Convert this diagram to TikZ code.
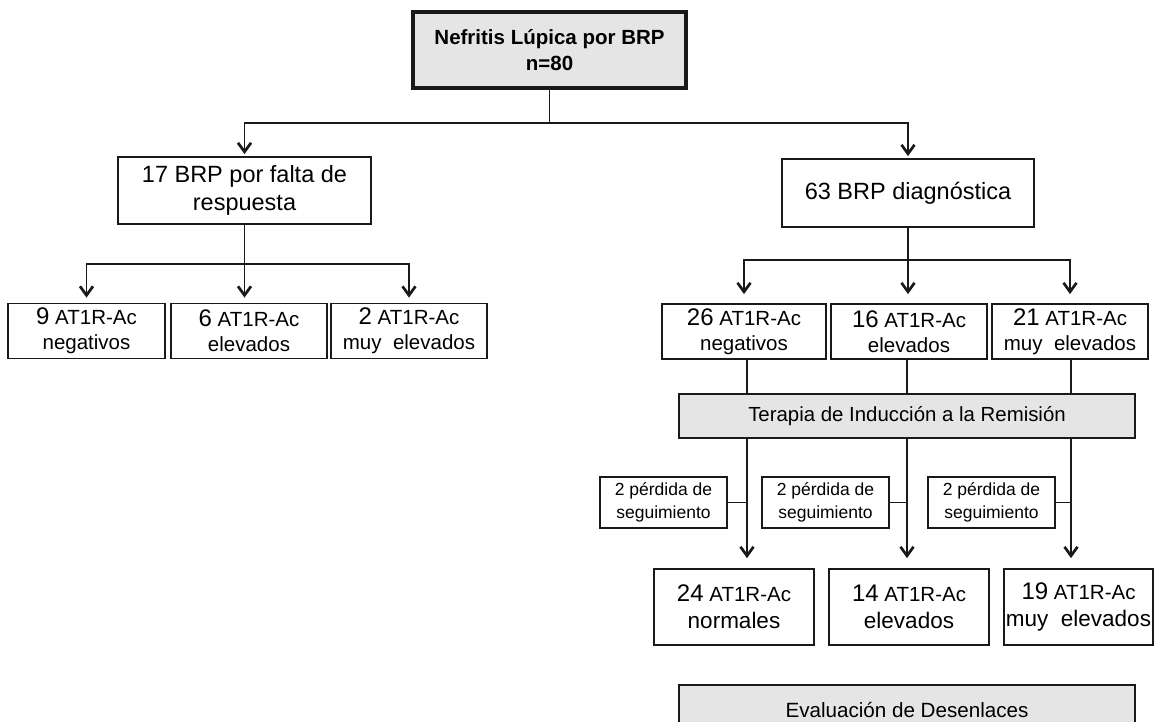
\documentclass[tikz,border=0pt]{standalone}
\usepackage{fontspec}
\setmainfont{Liberation Sans}
\usetikzlibrary{arrows.meta,calc}
\definecolor{linec}{RGB}{25,25,25}
\definecolor{boxfill}{RGB}{229,229,229}
\newcommand\bignum{\fontsize{24}{25}\selectfont}
\begin{document}
\begin{tikzpicture}[x=1pt,y=-1pt,
  box/.style={draw=linec,line width=1.8pt,inner sep=0pt,align=center,text=black},
  graybox/.style={box,fill=boxfill},
  conn/.style={draw=linec,line width=1.3pt},
  arr/.style={conn,-{Straight Barb[length=9pt,width=13pt,line width=2.7pt]}},
  midbox/.style={box,minimum height=55,font=\fontsize{20.5}{25}\selectfont},
  lossbox/.style={box,minimum width=127,minimum height=51,font=\fontsize{17.5}{23}\selectfont},
  botbox/.style={box,minimum height=76,font=\fontsize{20.5}{27}\selectfont},
  big/.style={box,font=\fontsize{23.5}{28}\selectfont}
]
\useasboundingbox (0,0) rectangle (1154,721);
\clip (0,0) rectangle (1154,721);
\fill[white] (0,0) rectangle (1154,721);

% nodes
\node[graybox,line width=3.5pt,minimum width=273,minimum height=76,
      font=\bfseries\fontsize{20.5}{26}\selectfont] (top) at (549.5,50) {Nefritis Lúpica por BRP\\n=80};
\node[big,minimum width=253,minimum height=67] (l1) at (244.5,190.5) {17 BRP por falta de\\respuesta};
\node[big,minimum width=252,minimum height=68] (r1) at (908,193) {63 BRP diagnóstica};

\node[midbox,minimum width=157] (la) at (86.5,331) {{\bignum 9} AT1R-Ac\\negativos};
\node[midbox,minimum width=156] (lb) at (249,331) {{\bignum 6} AT1R-Ac\\elevados};
\node[midbox,minimum width=156] (lc) at (409,331) {{\bignum 2} AT1R-Ac\\muy~ elevados};

\node[midbox,minimum width=164] (ra) at (744,331.5) {{\bignum 26} AT1R-Ac\\negativos};
\node[midbox,minimum width=156] (rb) at (909,331.5) {{\bignum 16} AT1R-Ac\\elevados};
\node[midbox,minimum width=156] (rc) at (1070,331.5) {{\bignum 21} AT1R-Ac\\muy~ elevados};

\node[graybox,minimum width=456,minimum height=44,font=\fontsize{20.4}{24}\selectfont] (ter) at (907,416) {Terapia de Inducción a la Remisión};

\node[lossbox] (pa) at (663.5,502.5) {2 pérdida de\\seguimiento};
\node[lossbox] (pb) at (825.5,502.5) {2 pérdida de\\seguimiento};
\node[lossbox] (pc) at (991.5,502.5) {2 pérdida de\\seguimiento};

\node[botbox,minimum width=160] (ba) at (734,607) {{\bignum 24} AT1R-Ac\\{\fontsize{22.5}{27}\selectfont normales}};
\node[botbox,minimum width=160] (bb) at (909,607) {{\bignum 14} AT1R-Ac\\{\fontsize{22.5}{27}\selectfont elevados}};
\node[botbox,minimum width=149] (bc) at (1078.5,607) {{\bignum 19} AT1R-Ac\\{\fontsize{22.5}{27}\selectfont muy~ elevados}};

\node[graybox,minimum width=456,minimum height=50,font=\fontsize{20.6}{24}\selectfont] (eva) at (907,710) {Evaluación de Desenlaces};

% connector helper coordinates
\coordinate (h1) at (0,123);
\coordinate (h2) at (0,264);
\coordinate (h3) at (0,260);
\coordinate (v1) at (747,0);
\coordinate (v2) at (907,0);
\coordinate (v3) at (1071,0);

% top split
\draw[conn] (top.south) -- (top.south |- h1);
\draw[arr,shorten >=2pt] (top.south |- h1) -| (l1.north);
\draw[arr,shorten >=2pt] (top.south |- h1) -| (r1.north);

% left split
\draw[arr,shorten >=5pt] (l1.south) -- (l1.south |- lb.north);
\draw[arr,shorten >=5pt] (l1.south |- h2) -| (la.north);
\draw[arr,shorten >=5pt] (l1.south |- h2) -| (lc.north);

% right split
\draw[arr,shorten >=9pt] (r1.south) -- (r1.south |- rb.north);
\draw[arr,shorten >=9pt] (r1.south |- h3) -| (ra.north);
\draw[arr,shorten >=9pt] (r1.south |- h3) -| (rc.north);

% into therapy
\draw[conn] (ra.south -| v1) -- (ter.north -| v1);
\draw[conn] (rb.south -| v2) -- (ter.north -| v2);
\draw[conn] (rc.south -| v3) -- (ter.north -| v3);

% out of therapy
\draw[arr,shorten >=10pt] (ter.south -| v1) -- (ba.north -| v1);
\draw[arr,shorten >=10pt] (ter.south -| v2) -- (bb.north -| v2);
\draw[arr,shorten >=10pt] (ter.south -| v3) -- (bc.north -| v3);

% losses
\draw[conn] (pa.east) -- (pa.east -| v1);
\draw[conn] (pb.east) -- (pb.east -| v2);
\draw[conn] (pc.east) -- (pc.east -| v3);
\end{tikzpicture}
\end{document}
